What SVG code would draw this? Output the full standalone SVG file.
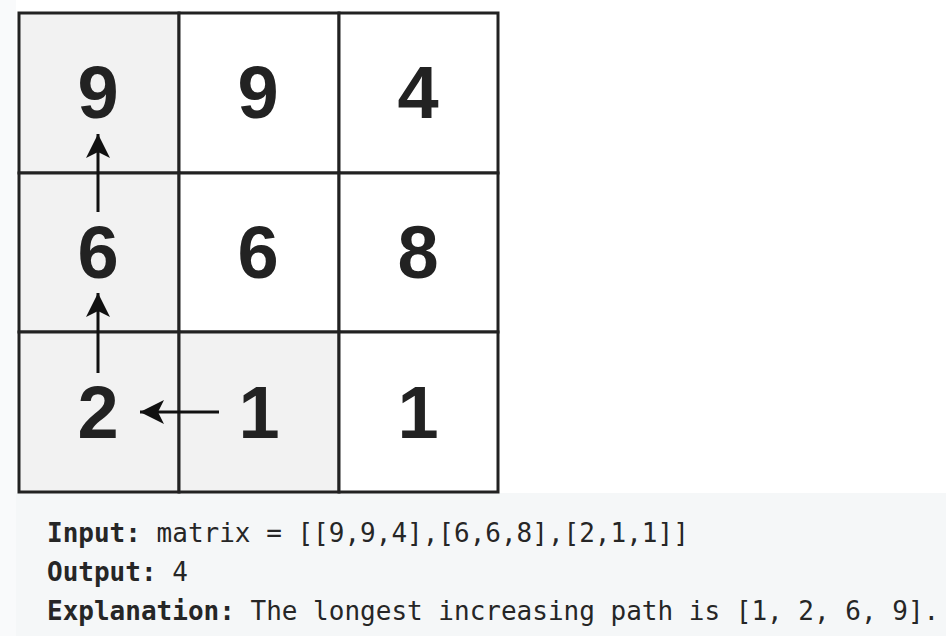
<svg xmlns="http://www.w3.org/2000/svg" width="946" height="636" viewBox="0 0 946 636">
<style>
.cell{stroke:#222;stroke-width:3}
.g{fill:#f2f2f2}
.w{fill:#fff}
.num{font-family:"Liberation Sans",Arial,sans-serif;font-weight:bold;font-size:74px;fill:#222;text-anchor:middle}
.code{font-family:"DejaVu Sans Mono",monospace;font-size:26px;fill:#262626}
.b{font-weight:bold}
.conn{stroke:#111;stroke-width:3;fill:none}
</style>
<defs>
<marker id="ah" markerUnits="userSpaceOnUse" markerWidth="30" markerHeight="30" viewBox="0 0 30 30" refX="26" refY="15" orient="auto">
<path d="M26,15 L2,3 L8,15 L2,27 Z" fill="#111"/>
</marker>
</defs>
<rect x="0" y="0" width="946" height="636" fill="#fff"/>
<rect x="0" y="0" width="16" height="636" fill="#f9fafb"/>
<rect x="16" y="493" width="930" height="143" fill="#f5f7f8"/>
<g id="c00"><rect class="cell g" x="19" y="13" width="160" height="160"/><text class="num" x="98" y="118">9</text></g>
<g id="c01"><rect class="cell w" x="179" y="13" width="160" height="160"/><text class="num" x="258" y="118">9</text></g>
<g id="c02"><rect class="cell w" x="339" y="13" width="159" height="160"/><text class="num" x="418" y="118">4</text></g>
<g id="c10"><rect class="cell g" x="19" y="173" width="160" height="159"/><text class="num" x="98" y="278">6</text></g>
<g id="c11"><rect class="cell w" x="179" y="173" width="160" height="159"/><text class="num" x="258" y="278">6</text></g>
<g id="c12"><rect class="cell w" x="339" y="173" width="159" height="159"/><text class="num" x="418" y="278">8</text></g>
<g id="c20"><rect class="cell g" x="19" y="332" width="160" height="160"/><text class="num" x="98" y="438">2</text></g>
<g id="c21"><rect class="cell g" x="179" y="332" width="160" height="160"/><text class="num" x="259" y="438">1</text></g>
<g id="c22"><rect class="cell w" x="339" y="332" width="159" height="160"/><text class="num" x="418" y="438">1</text></g>
<g id="connectors">
<line class="conn" x1="98" y1="212" x2="98" y2="134" marker-end="url(#ah)"/>
<line class="conn" x1="98" y1="373" x2="98" y2="293" marker-end="url(#ah)"/>
<line class="conn" x1="219" y1="412" x2="140" y2="412" marker-end="url(#ah)"/>
</g>
<g id="code">
<text class="code" x="47" y="542"><tspan class="b">Input:</tspan> matrix = [[9,9,4],[6,6,8],[2,1,1]]</text>
<text class="code" x="47" y="581"><tspan class="b">Output:</tspan> 4</text>
<text class="code" x="47" y="620"><tspan class="b">Explanation:</tspan> The longest increasing path is [1, 2, 6, 9].</text>
</g>
</svg>
